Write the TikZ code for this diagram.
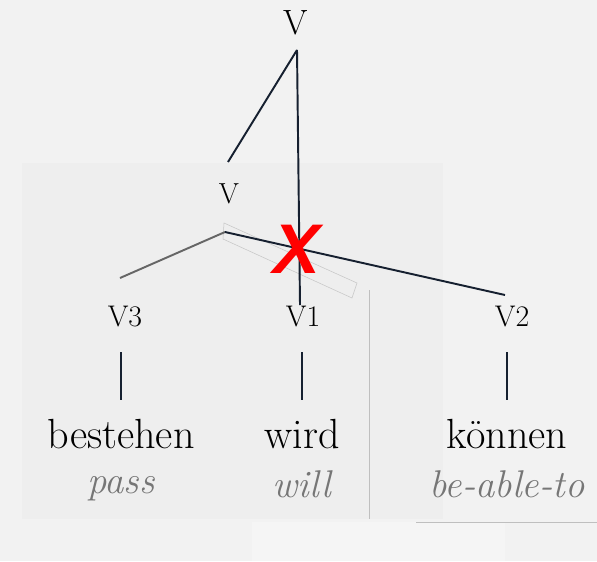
\documentclass[tikz,border=0pt]{standalone}
\usepackage{fontspec}
\newfontfamily\crossfont{Liberation Sans}
\usetikzlibrary{positioning}
\definecolor{edge}{RGB}{22, 32, 48}
\definecolor{backdrop}{RGB}{242, 242, 242}
\definecolor{panel}{RGB}{238, 238, 238}
\definecolor{lightpanel}{RGB}{245, 245, 245}
\definecolor{gloss}{RGB}{118, 118, 118}

\begin{document}
\begin{tikzpicture}[x=0.02cm, y=-0.02cm,
    cat/.style={inner sep=0pt, anchor=base, font=\fontsize{17}{19}\selectfont},
    word/.style={inner sep=0pt, anchor=base, font=\fontsize{24}{27}\selectfont},
    transl/.style={inner sep=0pt, anchor=base, text=gloss, font=\fontsize{22}{25}\selectfont\itshape},
    branch/.style={edge, line width=1.1pt}]
            % backdrop and the faint panels
            \fill[backdrop] (0,0) rectangle (597,561);
            \useasboundingbox (0,0) rectangle (597,561);
            \fill[panel] (22,163) rectangle (443,519);
            \fill[lightpanel] (252,522) rectangle (505,561);
            \draw[gray!50, line width=0.4pt] (369,290) -- (369,519);
            \draw[gray!50, line width=0.4pt] (416,522) -- (597,522);
            \draw[gray!45, line width=0.3pt] (224,223) -- (357,283) -- (352,298) -- (223,239) -- cycle;
            % categories
            \node[cat, font=\fontsize{20}{22}\selectfont] (vTop) at (296,34) {V};
            \node[cat, font=\fontsize{16.5}{18}\selectfont] (vMid) at (229,203) {V};
            \coordinate (topFoot) at (297,50);
            \coordinate (midHead) at (228,162);
            \coordinate (midFoot) at (225,232);
            \foreach \n/\x/\lab in {3/125/V3, 1/303/V1, 2/512/V2}
              \node[cat] (v\n) at (\x,326) {\lab};
            \coordinate (v3Head) at (120,278);
            \coordinate (v1Head) at (300,305);
            \coordinate (v2Head) at (505,295);
            % words and glosses
            \foreach \n/\x/\w/\g/\gy in {3/121/bestehen/pass/493, 1/302/wird/will/497, 2/507/können/be-able-to/497} {
              \node[word] (w\n) at (\x,448) {\w};
              \node[transl] (g\n) at (\x,\gy) {\g};
              \coordinate (s\n) at (\x,352);
              \coordinate (t\n) at (\x,400);
              \draw[edge, line width=0.6pt] (s\n) -- (t\n);
            }
            % branches
            \draw[branch] (topFoot) -- (midHead);
            \draw[branch, gray!80!black] (midFoot) -- (v3Head);
            \draw[branch] (midFoot) -- (v2Head);
            \draw[branch] (topFoot) -- (v1Head);
            \node[text=red, inner sep=0pt, font=\crossfont\fontsize{40}{44}\selectfont\bfseries\itshape] (cross) at (297,249) {X};
          \end{tikzpicture}
\end{document}
